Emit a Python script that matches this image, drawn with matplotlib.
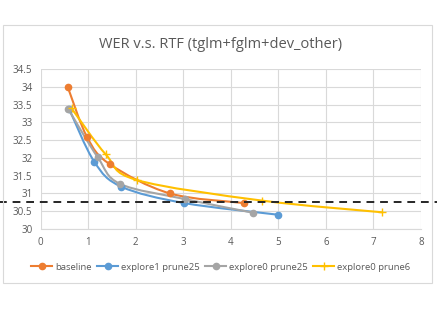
import numpy as np
import matplotlib.pyplot as plt
from matplotlib.path import Path
from matplotlib.patches import PathPatch, Rectangle

# data
baseline_x = [0.57, 0.98, 1.46, 2.72, 4.27]
baseline_y = [34.0, 32.58, 31.82, 31.0, 30.73]
e1p25_x = [0.6, 1.13, 1.7, 3.02, 5.0]
e1p25_y = [33.38, 31.89, 31.19, 30.73, 30.4]
e0p25_x = [0.58, 1.2, 1.67, 3.04, 4.46]
e0p25_y = [33.38, 32.02, 31.27, 30.84, 30.46]
e0p6_x = [0.65, 1.37, 2.02, 4.65, 7.18]
e0p6_y = [33.4, 32.1, 31.38, 30.8, 30.47]
target_wer = 30.77

series = [
    ('baseline', baseline_x, baseline_y, '#ED7D31', 'o'),
    ('explore1 prune25', e1p25_x, e1p25_y, '#5B9BD5', 'o'),
    ('explore0 prune25', e0p25_x, e0p25_y, '#A5A5A5', 'o'),
    ('explore0 prune6', e0p6_x, e0p6_y, '#FFC000', '+'),
]

text_color = '#595959'
grid_color = '#d9d9d9'


def smooth_path(xs, ys):
    # catmull-rom style bezier, like excel's smoothed line
    pts = np.column_stack([xs, ys])
    verts = [pts[0]]
    codes = [Path.MOVETO]
    n = len(pts)
    for i in range(n - 1):
        p0 = pts[max(i - 1, 0)]
        p1 = pts[i]
        p2 = pts[i + 1]
        p3 = pts[min(i + 2, n - 1)]
        c1 = p1 + (p2 - p0) / 6
        c2 = p2 - (p3 - p1) / 6
        verts += [c1, c2, p2]
        codes += [Path.CURVE4] * 3
    return Path(verts, codes)


plt.rcParams['font.family'] = ['Open Sans', 'DejaVu Sans']

fig = plt.figure(figsize=(4.37, 3.22), dpi=100)
fig.patch.set_facecolor('white')
fig.patches.append(Rectangle((3 / 437, 1 - 283 / 322), 429 / 437, 258 / 322,
                             transform=fig.transFigure, fill=False,
                             edgecolor=grid_color, linewidth=0.8))

ax = fig.add_axes([0.093, 0.289, 0.87, 0.496])

for name, xs, ys, color, marker in series:
    ax.add_patch(PathPatch(smooth_path(xs, ys), fill=False, edgecolor=color,
                           linewidth=1.5, zorder=3))
    ms = 6 if marker == '+' else 4.5
    ax.plot(xs, ys, linestyle='none', marker=marker, color=color,
            markersize=ms, markeredgewidth=1.0, zorder=4)
    ax.plot([], [], color=color, marker=marker, markersize=ms,
            linewidth=1.5, label=name)

ax.axhline(target_wer, xmin=-0.11, xmax=1.05, color='#262626',
           linestyle=(0, (4, 3)), linewidth=1.4, clip_on=False, zorder=5)

ax.set_xlim(0, 8)
ax.set_ylim(30, 34.5)
ax.set_xticks(range(0, 9))
ax.set_yticks(np.arange(30, 34.51, 0.5))
ax.set_yticklabels(['30', '30.5', '31', '31.5', '32', '32.5', '33', '33.5', '34', '34.5'])
ax.grid(True, color=grid_color, linewidth=0.8)
ax.set_axisbelow(True)
for s in ['top', 'right', 'left']:
    ax.spines[s].set_visible(False)
ax.spines['bottom'].set_color(grid_color)
ax.tick_params(length=0, labelsize=7, colors=text_color, pad=6)

fig.text(0.505, 1 - 45 / 322, 'WER v.s. RTF (tglm+fglm+dev_other)',
         ha='center', va='center', fontsize=10.5, color=text_color)

fig.legend(loc='center', bbox_to_anchor=(0.505, 1 - 267 / 322), ncol=4,
           frameon=False, fontsize=6.8, labelcolor=text_color,
           handlelength=2.2, handletextpad=0.3, columnspacing=0.6)

fig.savefig('out.png', dpi=100)
